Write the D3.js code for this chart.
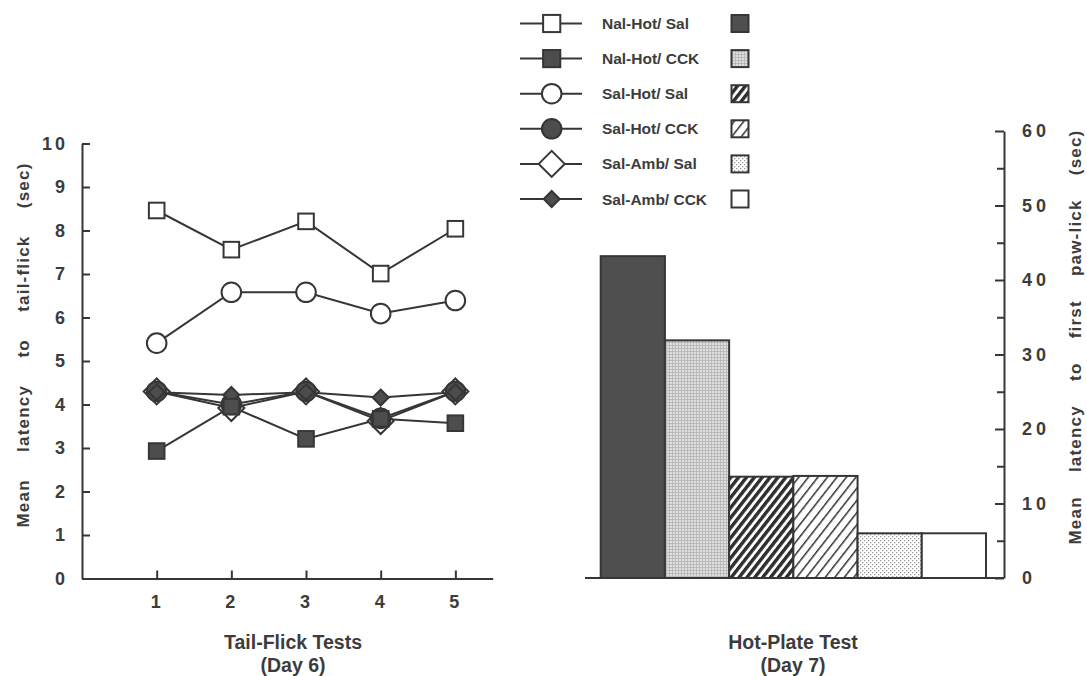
<!DOCTYPE html>
<html>
<head>
<meta charset="utf-8">
<script src="https://cdn.jsdelivr.net/npm/d3@7"></script>
<style>
  html, body { margin: 0; padding: 0; background: #fff; }
  svg { display: block; }
  text { font-family: "Liberation Sans", Arial, Helvetica, sans-serif; font-weight: bold; fill: #3c3c3c; }
</style>
</head>
<body>
<svg id="chart" width="1087" height="676"></svg>
<script>
// ---------------- data ----------------
const tests = [1, 2, 3, 4, 5];
const groups = ["Nal-Hot/ Sal", "Nal-Hot/ CCK", "Sal-Hot/ Sal", "Sal-Hot/ CCK", "Sal-Amb/ Sal", "Sal-Amb/ CCK"];
const nalHotSal = [8.46, 7.56, 8.21, 7.01, 8.04];
const nalHotCck = [2.93, 3.95, 3.21, 3.67, 3.57];
const salHotSal = [5.41, 6.58, 6.58, 6.09, 6.39];
const salHotCck = [4.30, 4.00, 4.30, 3.68, 4.30];
const salAmbSal = [4.30, 3.92, 4.30, 3.62, 4.30];
const salAmbCck = [4.28, 4.22, 4.28, 4.16, 4.28];
const hotPlate = [43.2, 31.9, 13.6, 13.7, 6.0, 6.0];
const leftTicks = [0, 1, 2, 3, 4, 5, 6, 7, 8, 9, 10];
const rightTicks = [0, 10, 20, 30, 40, 50, 60];
const rightMinorTicks = [5, 15, 25, 35, 45, 55];
const leftTitle = "Mean latency to tail-flick (sec)";
const rightTitle = "Mean latency to first paw-lick (sec)";
const xTitle1 = ["Tail-Flick Tests", "(Day 6)"];
const xTitle2 = ["Hot-Plate Test", "(Day 7)"];

// series styling (order matches groups)
const seriesValues = [nalHotSal, nalHotCck, salHotSal, salHotCck, salAmbSal, salAmbCck];
const markerType = ["square", "square", "circle", "circle", "diamond", "diamondSmall"];
const markerFilled = [false, true, false, true, false, true];
const barFills = ["#4f4f4f", "url(#pGrid)", "url(#pDense)", "url(#pSparse)", "url(#pStipple)", "#ffffff"];

const ink = "#363636";
const dark = "#4d4d4d";

const svg = d3.select("#chart");
const defs = svg.append("defs");

// patterns
const pGrid = defs.append("pattern").attr("id", "pGrid").attr("patternUnits", "userSpaceOnUse").attr("width", 3).attr("height", 3);
pGrid.append("rect").attr("width", 3).attr("height", 3).attr("fill", "#dedede");
pGrid.append("rect").attr("width", 3).attr("height", 0.8).attr("fill", "#b4b4b4");
pGrid.append("rect").attr("width", 0.8).attr("height", 3).attr("fill", "#b4b4b4");

const pSt = defs.append("pattern").attr("id", "pStipple").attr("patternUnits", "userSpaceOnUse").attr("width", 4).attr("height", 4);
pSt.append("rect").attr("width", 4).attr("height", 4).attr("fill", "#ffffff");
pSt.append("rect").attr("x", 0).attr("y", 0).attr("width", 1.3).attr("height", 1.3).attr("fill", "#9a9a9a");
pSt.append("rect").attr("x", 2).attr("y", 2).attr("width", 1.3).attr("height", 1.3).attr("fill", "#9a9a9a");

const pD = defs.append("pattern").attr("id", "pDense").attr("patternUnits", "userSpaceOnUse")
  .attr("width", 6.2).attr("height", 20).attr("patternTransform", "rotate(38)");
pD.append("rect").attr("width", 6.2).attr("height", 20).attr("fill", "#ffffff");
pD.append("rect").attr("width", 3.4).attr("height", 20).attr("fill", "#2e2e2e");

const pS = defs.append("pattern").attr("id", "pSparse").attr("patternUnits", "userSpaceOnUse")
  .attr("width", 7.5).attr("height", 20).attr("patternTransform", "rotate(38)");
pS.append("rect").attr("width", 7.5).attr("height", 20).attr("fill", "#ffffff");
pS.append("rect").attr("width", 1.5).attr("height", 20).attr("fill", "#333333");

// helper: stretch word gaps so a title spans a target length
function spreadWords(sel, target) {
  const node = sel.node();
  const len = node.getComputedTextLength();
  const gaps = (sel.text().match(/ /g) || []).length;
  if (gaps > 0 && len < target) sel.attr("word-spacing", (target - len) / gaps);
}

// ---------------- left panel: tail-flick ----------------
const xL = d3.scaleLinear().domain([0, 5.5]).range([82, 492.7]);
const yL = d3.scaleLinear().domain([0, 10]).range([578.5, 143.5]);

const gY = svg.append("g").attr("transform", `translate(${xL(0)},0)`)
  .call(d3.axisLeft(yL).tickValues(leftTicks).tickSize(-8).tickSizeOuter(0).tickPadding(14)
        .tickFormat(d3.format("d")));
const gX = svg.append("g").attr("transform", `translate(0,${yL(0)})`)
  .call(d3.axisBottom(xL).tickValues(tests).tickSize(-8).tickSizeOuter(0).tickPadding(17)
        .tickFormat(d3.format("d")));
[gY, gX].forEach(g => {
  g.selectAll("path.domain").attr("stroke", ink).attr("stroke-width", 2);
  g.selectAll(".tick line").attr("stroke", ink).attr("stroke-width", 2);
  g.selectAll(".tick text").attr("font-size", 18).attr("fill", "#3c3c3c")
    .attr("font-family", "Liberation Sans, Arial, sans-serif").attr("font-weight", "bold")
    .attr("letter-spacing", 3);
});

// lines
const line = d3.line().x((d, i) => xL(tests[i])).y(d => yL(d));
seriesValues.forEach(vals => {
  svg.append("path").attr("d", line(vals)).attr("fill", "none").attr("stroke", ink).attr("stroke-width", 2);
});

function drawMarker(g, type, filled, cx, cy, scale) {
  const s = scale || 1;
  const fill = filled ? dark : "#ffffff";
  let m;
  if (type === "square") {
    const h = 7.8 * s;
    m = g.append("rect").attr("x", cx - h).attr("y", cy - h).attr("width", 2 * h).attr("height", 2 * h);
  } else if (type === "circle") {
    m = g.append("circle").attr("cx", cx).attr("cy", cy).attr("r", 9.8 * s);
  } else if (type === "diamond") {
    const h = 13 * s;
    m = g.append("path").attr("d", `M${cx},${cy - h}L${cx + h},${cy}L${cx},${cy + h}L${cx - h},${cy}Z`);
  } else {
    const h = 8 * s;
    m = g.append("path").attr("d", `M${cx},${cy - h}L${cx + h},${cy}L${cx},${cy + h}L${cx - h},${cy}Z`);
  }
  m.attr("fill", fill).attr("stroke", ink).attr("stroke-width", 2);
}

// markers: draw in an order that mimics overlap
const drawOrder = [4, 3, 5, 1, 2, 0];
const gm = svg.append("g");
drawOrder.forEach(si => {
  seriesValues[si].forEach((v, i) => drawMarker(gm, markerType[si], markerFilled[si], xL(tests[i]), yL(v)));
});

// left title
const lt = svg.append("text")
  .attr("transform", `translate(23,${345}) rotate(-90)`)
  .attr("text-anchor", "middle").attr("dominant-baseline", "central")
  .attr("font-size", 17).attr("letter-spacing", 1.2)
  .text(leftTitle);
spreadWords(lt, 365);

xTitle1.forEach((t, i) => {
  svg.append("text").attr("x", 293).attr("y", 642 + i * 23)
    .attr("text-anchor", "middle").attr("dominant-baseline", "central")
    .attr("font-size", 19.5).text(t);
});

// ---------------- right panel: hot plate ----------------
const xB = d3.scaleBand().domain(groups).range([600.7, 986]).padding(0);
const yR = d3.scaleLinear().domain([0, 60]).range([578, 131]);

svg.append("g").selectAll("rect").data(hotPlate).join("rect")
  .attr("x", (d, i) => xB(groups[i]))
  .attr("y", d => yR(d))
  .attr("width", xB.bandwidth())
  .attr("height", d => yR(0) - yR(d))
  .attr("fill", (d, i) => barFills[i])
  .attr("stroke", ink).attr("stroke-width", 2);

// baseline
svg.append("line").attr("x1", 585).attr("x2", 1004).attr("y1", yR(0)).attr("y2", yR(0))
  .attr("stroke", ink).attr("stroke-width", 2);

const gR = svg.append("g").attr("transform", "translate(1004,0)")
  .call(d3.axisRight(yR).tickValues(rightTicks).tickSize(-9).tickSizeOuter(0).tickPadding(18)
        .tickFormat(d3.format("d")));
gR.selectAll("path.domain").attr("stroke", ink).attr("stroke-width", 2);
gR.selectAll(".tick line").attr("stroke", ink).attr("stroke-width", 2);
gR.selectAll(".tick text").attr("font-size", 18).attr("fill", "#3c3c3c")
  .attr("font-family", "Liberation Sans, Arial, sans-serif").attr("font-weight", "bold")
  .attr("letter-spacing", 4);
const gRm = svg.append("g").attr("transform", "translate(1004,0)")
  .call(d3.axisRight(yR).tickValues(rightMinorTicks).tickSize(-7).tickFormat(""));
gRm.selectAll("path.domain").remove();
gRm.selectAll(".tick line").attr("stroke", ink).attr("stroke-width", 2);

const rt = svg.append("text")
  .attr("transform", `translate(1075,${337}) rotate(-90)`)
  .attr("text-anchor", "middle").attr("dominant-baseline", "central")
  .attr("font-size", 17).attr("letter-spacing", 1.2)
  .text(rightTitle);
spreadWords(rt, 415);

xTitle2.forEach((t, i) => {
  svg.append("text").attr("x", 793).attr("y", 642 + i * 23)
    .attr("text-anchor", "middle").attr("dominant-baseline", "central")
    .attr("font-size", 19.5).text(t);
});

// ---------------- legend ----------------
const legY = d3.scalePoint().domain(groups).range([23.5, 199]);
const lg = svg.append("g");
groups.forEach((g, i) => {
  const y = legY(g);
  lg.append("line").attr("x1", 520).attr("x2", 582).attr("y1", y).attr("y2", y)
    .attr("stroke", ink).attr("stroke-width", 2);
  drawMarker(lg, markerType[i], markerFilled[i], 551.7, y, markerType[i] === "square" ? 1.1 : 1);
  lg.append("text").attr("x", 602).attr("y", y).attr("dominant-baseline", "central")
    .attr("font-size", 15.5).text(g);
  lg.append("rect").attr("x", 731.5).attr("y", y - 8.5).attr("width", 17).attr("height", 17)
    .attr("fill", barFills[i]).attr("stroke", ink).attr("stroke-width", 2);
});
</script>
</body>
</html>
